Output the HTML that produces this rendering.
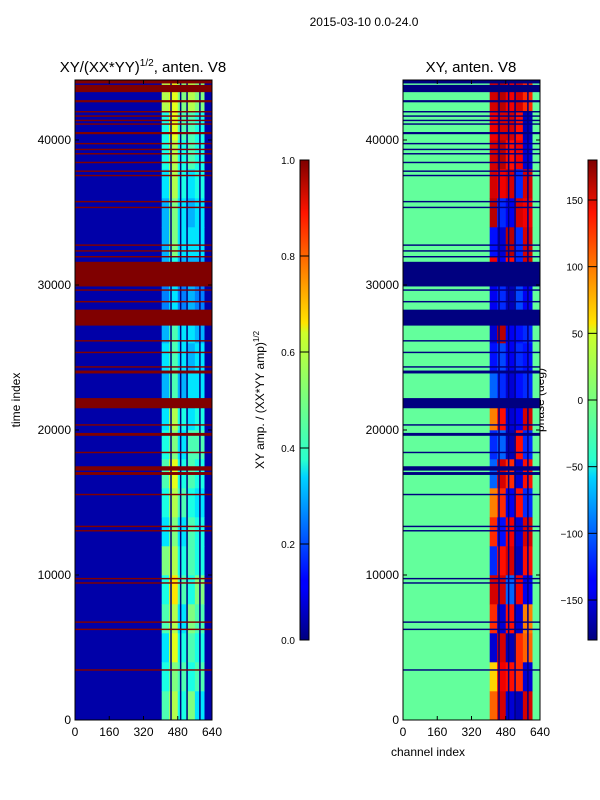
<!DOCTYPE html>
<html><head><meta charset="utf-8"><style>
html,body{margin:0;padding:0;background:#fff;}
svg{display:block;font-family:"Liberation Sans",sans-serif;}
</style></head><body>
<svg id="fig" width="600" height="800" viewBox="0 0 600 800" xmlns="http://www.w3.org/2000/svg">
<text x="364" y="26" font-size="12" text-anchor="middle">2015-03-10 0.0-24.0</text>
<text x="143" y="72" font-size="15" text-anchor="middle">XY/(XX*YY)<tspan font-size="10" dy="-6">1/2</tspan><tspan dy="6">, anten. V8</tspan></text>
<text x="471" y="72" font-size="15" text-anchor="middle">XY, anten. V8</text>
<text x="20" y="400" font-size="12" text-anchor="middle" transform="rotate(-90 20 400)">time index</text>
<text x="428" y="756" font-size="12" text-anchor="middle">channel index</text>
<text x="264" y="400" font-size="12" text-anchor="middle" transform="rotate(-90 264 400)">XY amp. / (XX*YY amp)<tspan font-size="8" dy="-5">1/2</tspan></text>
<text x="544" y="400" font-size="12" text-anchor="middle" transform="rotate(-90 544 400)">phase (deg)</text>
<defs>
<linearGradient id="jet" x1="0" y1="1" x2="0" y2="0">
<stop offset="0" stop-color="#00007f"/><stop offset="0.11" stop-color="#0000ff"/><stop offset="0.125" stop-color="#0000ff"/><stop offset="0.34" stop-color="#00d4ff"/><stop offset="0.375" stop-color="#29ffce"/><stop offset="0.64" stop-color="#ceff29"/><stop offset="0.66" stop-color="#ffe500"/><stop offset="0.89" stop-color="#ff1400"/><stop offset="1" stop-color="#7f0000"/>
</linearGradient>
</defs>
<g id="layer"></g>
</svg>
<script>
// ---- data ----
const yMaxTime = 44138;
const xTickLabels = [0,160,320,480,640];
const yTickLabels = [0,10000,20000,30000,40000];
const ampTicks = [0.0,0.2,0.4,0.6,0.8,1.0];
const phaseTicks = [-150,-100,-50,0,50,100,150];
// flagged time ranges (red in amplitude, navy in phase)
const flagStart = [43900,43300,42600,41900,41600,41300,41050,40400,39700,39300,39000,38400,37800,37500,35700,35300,32700,32300,31900,29900,29600,28800,27200,26100,25300,24300,23900,21500,20300,19600,18400,17200,16900,15500,13300,13000,9700,9400,6700,6200,3400];
const flagEnd   = [44138,43800,42750,42000,41700,41400,41150,40550,39800,39400,39100,38500,37900,37600,35800,35400,32800,32400,32000,31600,29700,28900,28300,26200,25400,24400,24100,22200,20400,19800,18500,17500,17100,15600,13400,13100,9800,9500,6800,6300,3500];
// hot-channel grid: rows of 2000 time units (0..44000), 6 channel blocks
const hotChannels = [405,440,480,520,560,605,640];
const ampGrid = [
 [0.45,0.55,0.40,0.50,0.35,0.04],[0.40,0.50,0.45,0.40,0.45,0.04],[0.35,0.60,0.40,0.45,0.40,0.04],
 [0.45,0.55,0.35,0.50,0.45,0.04],[0.40,0.65,0.45,0.40,0.50,0.04],[0.50,0.55,0.40,0.45,0.40,0.04],
 [0.35,0.50,0.35,0.45,0.40,0.04],[0.40,0.55,0.45,0.40,0.35,0.04],[0.45,0.60,0.40,0.45,0.40,0.04],
 [0.40,0.50,0.35,0.45,0.45,0.04],[0.35,0.55,0.40,0.35,0.40,0.04],[0.30,0.45,0.30,0.35,0.35,0.04],
 [0.35,0.45,0.35,0.30,0.35,0.04],[0.30,0.45,0.35,0.35,0.30,0.04],[0.25,0.35,0.25,0.30,0.25,0.04],
 [0.30,0.40,0.30,0.30,0.30,0.04],[0.30,0.50,0.35,0.35,0.35,0.04],[0.30,0.50,0.35,0.30,0.35,0.04],
 [0.35,0.55,0.40,0.35,0.40,0.04],[0.40,0.55,0.40,0.45,0.40,0.04],[0.40,0.60,0.45,0.45,0.40,0.04],
 [0.55,0.60,0.50,0.55,0.50,0.04]];
const phaseGrid = [
 [100,150,-150,-160,150,-10],[60,140,130,120,-150,-10],[-150,150,-160,120,100,-10],
 [120,-150,130,-150,90,-10],[150,150,-100,140,-140,-10],[-120,130,150,-160,130,-10],
 [120,-130,140,-150,150,-10],[90,120,-140,130,-120,-10],[-100,150,120,-150,130,-10],
 [-120,-100,-160,130,-120,-10],[90,130,-150,-140,150,-10],[-100,-120,-150,-130,-120,-10],
 [-130,-110,-140,-120,-130,-10],[-150,160,-140,-130,-120,-10],[-140,-120,-160,-110,-140,-10],
 [140,-140,130,-120,150,-10],[-130,-150,160,-120,150,-10],[160,-120,-140,150,140,-10],
 [150,140,150,-120,150,-10],[150,160,130,140,-150,-10],[140,150,150,130,-160,-10],
 [150,160,140,150,120,-10]];
const baseAmp = 0.04;
const basePhase = -10;
// dark vertical (flagged) channel lines
const deadChannels = [445,490,520,580];
</script>
<script>
const NS="http://www.w3.org/2000/svg";
const layer=document.getElementById('layer');
function jet(v){v=Math.max(0,Math.min(1,v));
 const r=Math.max(0,Math.min(1,Math.min(4*v-1.5,-4*v+4.5)));
 const g=Math.max(0,Math.min(1,Math.min(4*v-0.5,-4*v+3.5)));
 const b=Math.max(0,Math.min(1,Math.min(4*v+0.5,-4*v+2.5)));
 return `rgb(${Math.round(r*255)},${Math.round(g*255)},${Math.round(b*255)})`;}
function mk(tag,attrs,parent){const e=document.createElementNS(NS,tag);for(const k in attrs)e.setAttribute(k,attrs[k]);(parent||layer).appendChild(e);return e;}
const panels=[{x0:75,x1:212,kind:'amp'},{x0:403,x1:540,kind:'phase'}];
const Y0=80,Y1=720;
function yS(t){return Y1-t/yMaxTime*(Y1-Y0);}
panels.forEach((p,pi)=>{
 const xS=c=>p.x0+c/640*(p.x1-p.x0);
 const g=mk('g',{});
 
 
 const baseCol = p.kind==='amp'?jet(baseAmp):jet((basePhase+180)/360);
 const bg=mk('rect',{x:p.x0,y:Y0,width:p.x1-p.x0,height:Y1-Y0,fill:baseCol},g);
 
 
 const grid=p.kind==='amp'?ampGrid:phaseGrid;
 grid.forEach((row,ri)=>{
  row.forEach((v,ci)=>{
   const t0=ri*2000,t1=Math.min(yMaxTime,(ri+1)*2000);
   const col=p.kind==='amp'?jet(v):jet((v+180)/360);
   const c=mk('rect',{x:xS(hotChannels[ci]),y:yS(t1),width:xS(hotChannels[ci+1])-xS(hotChannels[ci])+0.3,height:yS(t0)-yS(t1)+0.3,fill:col},g);
   
   
  });
 });
 deadChannels.forEach(ch=>{
  const l=mk('rect',{x:xS(ch),y:Y0,width:1.5,height:Y1-Y0,fill:'#00007f'},g);
  
  
 });
 flagStart.forEach((s,i)=>{
  const e=flagEnd[i];
  const r=mk('rect',{x:p.x0,y:yS(e),width:p.x1-p.x0,height:Math.max(1.2,yS(s)-yS(e)),fill:p.kind==='amp'?'#800000':'#000080'},g);
  
  
 });
 const fr=mk('rect',{x:p.x0,y:Y0,width:p.x1-p.x0,height:Y1-Y0,fill:'none',stroke:'#000','stroke-width':1},g);
 
 
 xTickLabels.forEach(v=>{
  const x=xS(v);
  mk('line',{x1:x,x2:x,y1:Y1,y2:Y1-4,stroke:'#000'},g);
  mk('line',{x1:x,x2:x,y1:Y0,y2:Y0+4,stroke:'#000'},g);
  const t=mk('text',{x:x,y:Y1+16,'font-size':12,'text-anchor':'middle'},g);t.textContent=v;
  
  
 });
 yTickLabels.forEach(v=>{
  const y=yS(v);
  mk('line',{x1:p.x0,x2:p.x0+4,y1:y,y2:y,stroke:'#000'},g);
  mk('line',{x1:p.x1,x2:p.x1-4,y1:y,y2:y,stroke:'#000'},g);
  const t=mk('text',{x:p.x0-4,y:y+4,'font-size':12,'text-anchor':'end'},g);t.textContent=v;
  
  
 });
});
// colorbars
const cbs=[{x:300,ticks:ampTicks,min:0,max:1,fmt:v=>v.toFixed(1),lx:295,name:'amp-colorbar'},{x:588,ticks:phaseTicks,min:-180,max:180,fmt:v=>v===0?'0':(v<0?'\u2212'+(-v):String(v)),lx:583,name:'phase-colorbar'}];
const CB0=160,CB1=640;
cbs.forEach(cb=>{
 const g=mk('g',{});
 
 
 mk('rect',{x:cb.x,y:CB0,width:9,height:CB1-CB0,fill:'url(#jet)',stroke:'#000','stroke-width':1},g);
 cb.ticks.forEach(v=>{
  const y=CB1-(v-cb.min)/(cb.max-cb.min)*(CB1-CB0);
  mk('line',{x1:cb.x,x2:cb.x+9,y1:y,y2:y,stroke:'#000'},g);
  const t=mk('text',{x:cb.lx,y:y+4,'font-size':10,'text-anchor':'end'},g);t.textContent=cb.fmt(v);
  
  
 });
});
</script>
</body></html>
